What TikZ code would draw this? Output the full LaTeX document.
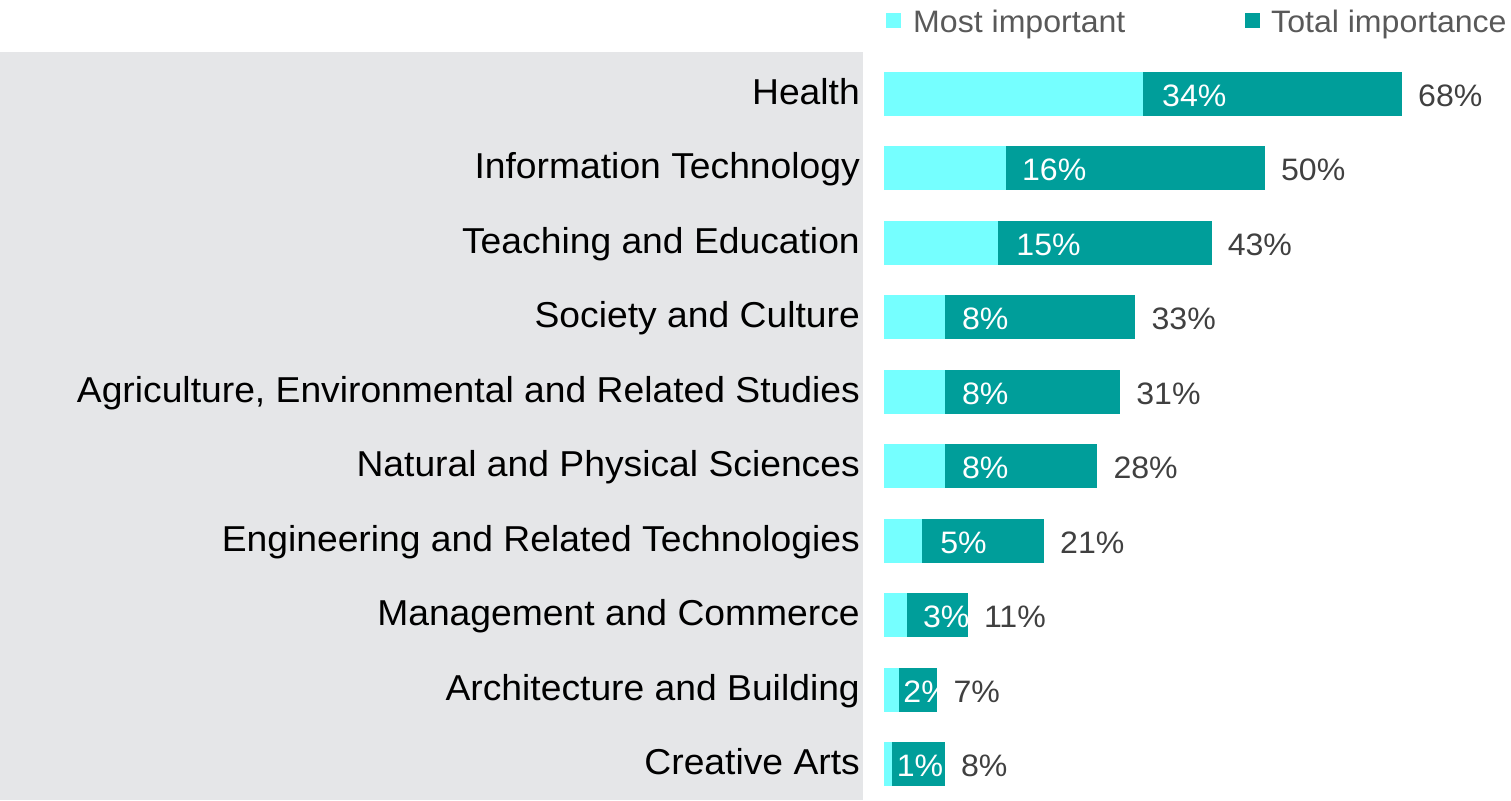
\documentclass[tikz,border=0pt]{standalone}
\usepackage{fontspec}
\setmainfont[FakeStretch=1.035]{Liberation Sans}
\definecolor{mostimp}{RGB}{117,255,255}
\definecolor{totimp}{RGB}{0,158,154}
\definecolor{panel}{RGB}{229,230,232}
\definecolor{valtext}{RGB}{64,64,64}
\definecolor{legtext}{RGB}{89,89,89}

\begin{document}
\begin{tikzpicture}[x=1pt, y=-1pt,
    catlabel/.style={anchor=base east, inner sep=0pt, font=\fontsize{36}{40}\selectfont},
    inlabel/.style={anchor=base west, inner sep=0pt, text=white, font=\fontsize{31}{36}\selectfont},
    totlabel/.style={anchor=base west, inner sep=0pt, text=valtext, font=\fontsize{31}{36}\selectfont},
    legentry/.style={anchor=base west, inner sep=0pt, text=legtext, font=\fontsize{31}{36}\selectfont}]

    \useasboundingbox (0,0) rectangle (1511,800);

    % grey panel behind the category names
    \fill[panel] (0,52) rectangle (863,800);

    % legend
    \fill[mostimp] (886,13) rectangle (901,28);
    \node[legentry] (legmost) at (913,33) {Most important};
    \fill[totimp] (1245,13) rectangle (1260,28);
    \node[legentry] (legtotal) at (1271,33) {Total importance};

    % pixels per percent
    \def\pct{7.618}

    % name / most important / total / offset of the inner label
    \foreach \cat/\mi/\tot/\off [count=\i from 0] in {
        Health/34/68/19,
        Information Technology/16/50/16,
        Teaching and Education/15/43/18,
        Society and Culture/8/33/17,
        {Agriculture, Environmental and Related Studies}/8/31/17,
        Natural and Physical Sciences/8/28/17,
        Engineering and Related Technologies/5/21/18,
        Management and Commerce/3/11/16,
        Architecture and Building/2/7/4,
        Creative Arts/1/8/5} {
        \pgfmathsetmacro{\yc}{93.5+74.5*\i}
        \pgfmathsetmacro{\xa}{884+\pct*\mi}
        \pgfmathsetmacro{\xb}{884+\pct*\tot}
        \node[catlabel] (cat\i) at (860,\yc+10.5) {\cat};
        \fill[mostimp] (884,\yc-22) rectangle (\xa,\yc+22);
        \fill[totimp] (\xa,\yc-22) rectangle (\xb,\yc+22);
        \begin{scope}
            \clip (\xa,\yc-22) rectangle (\xb,\yc+22);
            \node[inlabel] (mi\i) at (\xa+\off,\yc+12.5) {\mi\%};
        \end{scope}
        \node[totlabel] (tot\i) at (\xb+16,\yc+12.5) {\tot\%};
    }

\end{tikzpicture}
\end{document}
